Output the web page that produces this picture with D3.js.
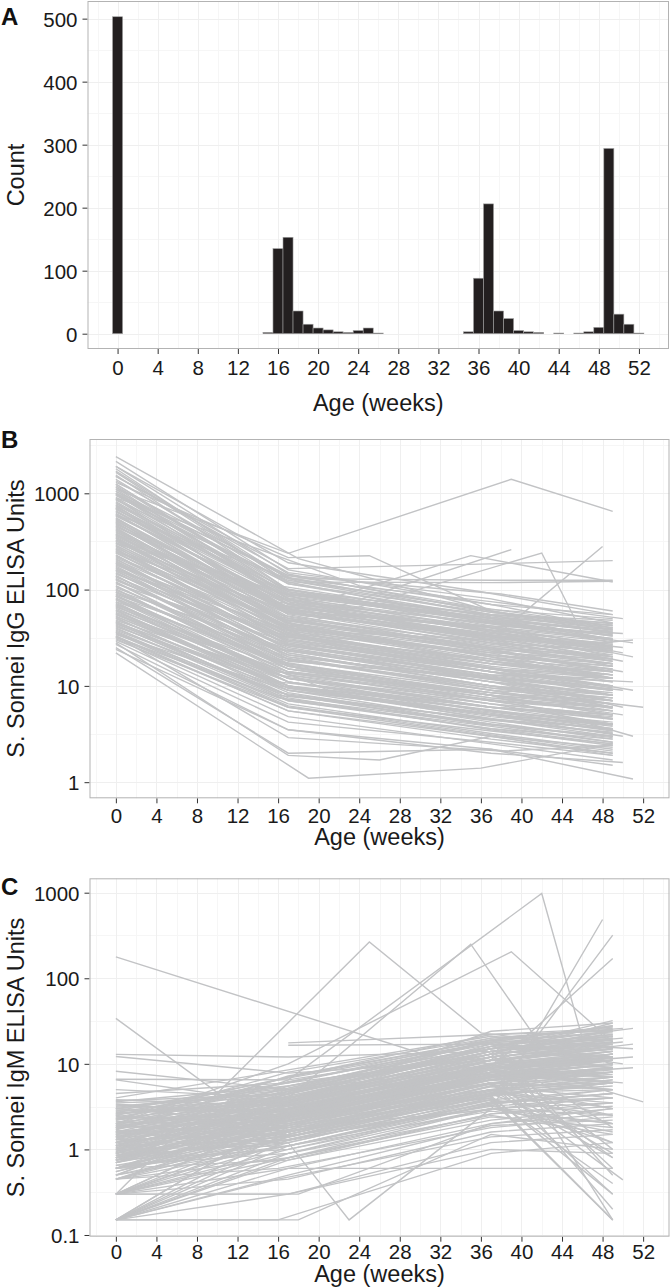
<!DOCTYPE html>
<meta charset="utf-8">
<style>
  body { margin: 0; background: #fff; }
  svg { display: block; font-family: "Liberation Sans", Arial, Helvetica, sans-serif; }
</style>
<body>
<script src="https://d3js.org/d3.v7.min.js"></script>
<script>

// panel A: number of samples per week of age
var histWeeks  = [0, 15, 16, 17, 18, 19, 20, 21, 22, 23, 24, 25, 26,
                  35, 36, 37, 38, 39, 40, 41, 42, 44, 46, 47, 48, 49, 50, 51, 52];
var histCounts = [503, 2, 135, 153, 36, 15, 9, 6, 3, 2, 5, 9, 1,
                  3, 88, 206, 36, 24, 5, 3, 2, 1, 1, 3, 10, 294, 31, 15, 1];

var ageTicks = d3.range(0, 53, 4);
var countTicks = [0, 100, 200, 300, 400, 500];
var iggTicks = [1, 10, 100, 1000];
var igmTicks = [0.1, 1, 10, 100, 1000];

// panel B: IgG per child, flat pairs of [week, units]
var iggSubjects = [
  [0,2400,18,210,37,60,49,35], [0,2150,17,160,37,70,49,40], [0,1900,17,190,36,95,49,55],
  [0,1800,16,140,37,55,49,30], [0,1650,17,120,38,45,49,28], [0,1500,17,150,37,80,49,45],
  [0,1550,17,100,37,40,50,22], [0,1350,17,130,37,60,49,38], [0,1250,16,110,37,50,49,30],
  [0,1200,17,95,37,42,49,25], [0,1150,17,140,36,65,49,42], [0,1100,17,85,37,38,49,20],
  [0,1050,18,120,37,55,49,48], [0,1000,16,105,37,45,49,35], [0,980,17,75,37,30,49,18],
  [0,950,17,115,37,58,49,44], [0,900,17,90,37,48,49,33], [0,880,16,70,36,35,49,22],
  [0,850,17,125,37,62,49,50], [0,820,17,80,37,40,49,26], [0,780,17,100,38,52,49,39],
  [0,750,16,65,37,33,49,21], [0,720,17,88,37,46,49,31], [0,700,17,60,37,28,49,16],
  [0,680,17,95,37,50,49,36], [0,650,18,72,37,38,49,27], [0,620,17,55,36,25,49,14],
  [0,1100,17,238,39,1400,49,650], [0,1300,17,215,25,225,37,60,49,40],
  [0,580,17,78,37,36,49,24], [0,560,17,50,37,22,49,12], [0,540,16,68,37,40,49,30],
  [0,520,17,58,37,26,49,19], [0,500,17,45,37,20,49,11], [0,480,17,70,36,34,49,28],
  [0,470,18,40,37,18,49,13], [0,450,17,62,37,30,49,22], [0,430,17,48,38,24,49,17],
  [0,420,16,55,37,27,49,20], [0,400,17,38,37,15,49,9], [0,390,17,66,37,35,50,25],
  [0,370,17,44,37,21,49,15], [0,360,16,52,37,28,49,23], [0,340,17,35,36,16,49,10],
  [0,330,17,47,37,25,49,18], [0,320,19,30,37,14,49,8], [0,310,17,56,37,32,49,26],
  [0,300,17,42,37,20,49,14], [0,290,17,36,37,17,49,12], [0,280,16,33,37,19,49,15],
  [0,270,17,45,37,24,49,21], [0,260,17,28,37,12,49,7], [0,250,18,38,38,20,49,16],
  [0,240,17,31,37,15,49,11], [0,230,17,26,36,13,49,9], [0,220,17,40,37,22,49,19],
  [0,210,16,24,37,11,49,6], [0,205,17,34,37,18,49,13], [0,195,17,29,37,14,49,10],
  [0,185,17,22,37,10,49,6.5], [0,180,17,37,37,21,49,17], [0,170,16,27,37,13,50,9],
  [0,165,17,20,37,9,49,5.5], [0,160,17,32,37,16,49,12], [0,155,17,25,36,12,49,8],
  [0,150,17,21,37,10,49,7], [0,145,17,30,37,17,49,14], [0,140,16,18,37,8,49,5],
  [0,135,17,26,37,14,49,11], [0,130,17,19,37,9.5,49,7.5], [0,125,17,23,38,12,49,9],
  [0,120,17,16,37,7,49,4.5], [0,115,17,28,37,15,49,13], [0,110,16,17,37,8.5,49,6],
  [0,105,17,21,37,11,49,8.5], [0,100,17,14,37,6.5,49,4], [0,98,17,24,37,13,49,12],
  [0,95,18,15,37,7.5,49,5.5], [0,90,17,19,37,10,49,8], [0,88,17,12,36,5.5,49,3.8],
  [0,85,17,20,37,12,49,10], [0,82,16,13,37,6,49,4.5], [0,80,17,16,37,8,49,6],
  [0,78,17,11,37,5,49,3.5], [0,75,17,17,37,9,49,7.5], [0,72,17,12,37,6.5,49,5],
  [0,70,16,14,37,7,49,5.5], [0,68,17,10,37,4.5,49,3], [0,66,17,15,37,8,49,6.5],
  [0,64,17,11,37,5.5,49,4], [0,62,17,13,38,7,49,5.5], [0,60,17,9,37,4.2,49,2.8],
  [0,58,17,12,37,6,49,4.8], [0,56,16,10,37,5.2,49,3.6], [0,55,17,14,37,8.5,49,7],
  [0,53,17,9.5,37,4.8,49,3.5], [0,52,17,11,37,6,49,5], [0,50,17,8.5,37,4,49,2.6],
  [0,48,17,12,37,7,49,6], [0,47,16,8,37,4.5,49,3.2], [0,46,17,10,37,5.5,49,4.2],
  [0,45,17,7.5,37,3.5,49,2.4], [0,44,17,9,37,5,49,4], [0,42,17,8,36,4,49,3],
  [0,41,17,10,37,6,49,5], [0,40,17,7,37,3.8,49,2.6], [0,38,17,8,37,4.5,49,3.6],
  [0,37,17,6.5,37,3.2,49,2.2], [0,36,16,7.5,37,4,49,3], [0,35,17,6,37,3,49,1.9],
  [0,34,17,9,37,5,49,4], [0,33,17,5.5,37,2.8,49,2], [0,32,17,7,37,3.6,49,2.8],
  [0,31,17,4.8,37,2.5,49,1.7], [0,30,17,6,37,3.4,49,2.5], [0,27,17,3.5,37,2.2,49,1.5],
  [0,25,17,2,37,2.2,51,1.08], [0,22,19,1.1,36,1.4,49,2.5], [0,28,17,1.9,26,1.7,37,3,49,2],
  [0,24,17,3.5,37,2,50,1.6], [0,29,17,4.2,37,2.6,49,1.9], [0,33,17,2.9,38,2.1,49,2.4],
  [0,450,20,55,37,28,49,20], [0,160,22,25,40,14,51,9], [0,900,24,110,37,70,49,55],
  [0,320,25,48,39,30,50,18], [0,70,21,9,41,5,49,4], [0,140,16,20,42,8,52,6],
  [0,600,17,75,37,45,51,28], [0,700,17,60,35,225,49,120], [0,500,17,45,39,260],
  [0,350,17,40,42,240,46,35], [0,260,17,38,37,30,48,280], [0,1500,17,165,37,185,49,200],
  [0,1700,17,130,37,125,49,125], [0,1000,17,120,37,118,49,122], [0,240,17,35,37,22,51,30],
  [0,130,17,18,37,12,50,6], [0,85,17,14,37,8,51,3], [0,380,17,60,37,42,50,35],
  [0,1900,17,145,37,58,49,42], [0,1400,17,115,37,52,49,36], [0,1250,17,100,37,47,49,33],
  [0,1150,16,92,37,50,49,38], [0,1050,17,80,37,36,49,24], [0,960,17,98,37,55,49,40],
  [0,870,17,82,37,44,49,30], [0,800,16,74,37,37,49,25], [0,760,17,92,37,51,49,43],
  [0,730,17,70,37,34,49,23], [0,690,17,85,37,48,49,37], [0,660,17,64,37,31,49,20],
  [0,640,16,80,37,44,49,34], [0,610,17,59,37,29,49,19], [0,590,17,72,37,41,49,31],
  [0,550,17,63,37,33,49,24], [0,530,16,49,37,23,49,14], [0,510,17,66,37,38,49,29],
  [0,490,17,52,37,25,49,17], [0,460,17,58,37,31,49,25], [0,440,17,43,37,20,49,12],
  [0,410,16,50,37,26,49,19], [0,380,17,41,37,19,49,13], [0,365,17,57,37,33,49,27],
  [0,345,17,39,37,18,49,12], [0,325,16,44,37,23,49,17], [0,305,17,33,37,15,49,9.5],
  [0,285,17,40,37,21,49,16], [0,265,17,30,37,14,49,9], [0,245,16,35,37,18,49,14],
  [0,225,17,27,37,12,49,8], [0,215,17,33,37,17,49,13], [0,200,17,24,37,11,49,7],
  [0,190,16,28,37,14,49,10], [0,175,17,22,37,10,49,6], [0,168,17,29,37,15,49,12],
  [0,158,17,19,37,9,49,5.8], [0,148,16,24,37,12,49,9], [0,138,17,17,37,8,49,5],
  [0,128,17,21,37,11,49,8], [0,118,17,15,37,7,49,4.6], [0,108,16,19,37,10,49,7.5],
  [0,102,17,13,37,6,49,4], [0,93,17,16,37,8.5,49,6.5], [0,86,17,11,37,5.5,49,3.6],
  [0,79,16,14,37,7.5,49,6], [0,74,17,10,37,5,49,3.4], [0,67,17,12,37,6.5,49,5],
  [0,61,17,9.5,37,4.6,49,3.2], [0,57,16,11,37,6,49,4.6], [0,51,17,8,37,4,49,2.9],
  [0,46,17,9.5,37,5,49,3.9], [0,43,17,7.2,37,3.6,49,2.5], [0,39,16,8.5,37,4.4,49,3.3],
  [0,36,17,6.2,37,3.1,49,2.1], [0,32,17,5.5,37,3,49,2.3], [0,1000,17,140,38,90,49,60],
  [0,600,17,130,37,75,50,50], [0,300,17,90,37,55,49,45], [0,250,17,60,37,40,51,20],
  [0,420,17,50,37,24,50,14], [0,190,17,27,37,13,51,11], [0,95,17,15,37,8,50,5],
  [0,55,17,10,37,5,50,3]
];

// panel C: IgM per child, flat pairs of [week, units]
var igmSubjects = [
  [0,178,37,7.3,49,8], [0,34,16,1.4,37,3,49,4], [0,12.9,17,12,37,14,49,18],
  [0,12.2,17,7.8,37,11,49,9], [0,8.2,17,5,37,9,49,12], [0,6.6,17,6.5,37,15,49,20],
  [0,6.5,16,3.5,37,8,49,6], [0,5,17,4,37,10,49,14], [0,4.5,17,6,37,12,49,25],
  [0,3.8,17,3.2,37,7,49,9], [0,3.6,17,5.5,37,16,49,22], [0,3.4,17,2.4,37,5,49,3],
  [0,3.2,16,4.5,37,13,49,17], [0,3.0,17,3.8,37,9,49,11], [0,3.0,17,2,37,4.5,49,1.2],
  [0,2.8,17,6.8,37,18,49,28], [0,2.7,17,3,37,8,49,7], [0,2.6,18,4.2,37,11,49,15],
  [0,2.5,17,1.6,37,3.8,49,5], [0,2.4,17,5,37,14,49,19], [0,2.3,17,2.6,37,6.5,49,8],
  [0,2.2,17,3.6,36,10,49,13], [0,2.1,17,1.9,37,4,49,0.4], [0,2.0,16,4,37,12,49,16],
  [0,2.0,17,2.8,37,7.5,49,10], [0,1.9,17,1.4,37,5.5,49,6], [0,1.8,17,3.3,37,9.5,49,12],
  [0,1.8,17,2.2,37,5,49,2.5], [0,1.7,17,4.8,37,15,49,21], [0,1.6,17,2.5,37,8.5,49,11],
  [0,1.6,16,1.2,37,3.5,49,4.5], [0,1.5,17,3,37,10,49,14], [0,1.5,17,2,37,6,49,7],
  [0,1.4,17,3.9,37,13,49,18], [0,1.4,18,1.7,37,4.5,49,3.5], [0,1.3,17,2.7,37,9,49,10],
  [0,1.3,17,1.5,37,5,49,0.8], [0,1.2,17,3.4,37,11,49,15], [0,1.2,16,2.1,37,6.5,49,8.5],
  [0,1.1,17,1.3,37,3.2,49,4], [0,1.1,17,2.9,37,8,49,13], [0,1.05,17,1.9,37,7,49,9],
  [0,1.0,17,4.2,37,14,49,24], [0,1.0,17,1.1,37,2.8,49,2], [0,0.95,17,2.4,37,7.5,49,6],
  [0,0.9,17,1.6,37,5.5,49,7], [0,0.9,16,3.1,37,10,49,12], [0,0.85,17,1.2,37,4,49,0.15],
  [0,0.8,17,2.2,37,8,49,9.5], [0,0.8,17,1.8,37,6,49,5], [0,0.75,17,2.6,37,9,49,11],
  [0,0.75,17,1,37,3,49,3.5], [0,0.75,18,1.5,37,4.8,49,6], [0,0.7,17,2.3,37,7,49,8],
  [0,0.65,17,0.9,37,2.5,49,1.5], [0,0.6,17,1.9,37,6.5,49,9], [0,0.6,17,1.3,37,4.2,49,0.3],
  [0,0.6,16,2.8,37,9.5,49,13], [0,0.6,17,0.75,37,2.2,49,3], [0,0.55,17,1.6,37,5,49,6.5],
  [0,0.5,17,1.1,37,3.6,49,4], [0,0.45,17,2,37,7,49,10], [0,0.45,17,0.8,37,2.4,49,1.8],
  [0,0.45,17,1.4,37,4.5,49,5.5], [0,0.45,16,0.6,37,1.8,49,2.4],
  [0,0.3,17,0.3,37,1.2,49,1.5], [0,0.3,17,1.5,37,5,49,7], [0,0.3,17,0.9,37,3,49,2.5],
  [0,0.3,16,2.2,37,7.5,49,11], [0,0.3,17,0.6,37,0.6,49,0.6], [0,0.3,17,1.2,37,4,49,0.15],
  [0,0.3,17,0.45,37,1.6,49,2], [0,0.3,25,266,36,23,49,15], [0,0.3,17,1.8,37,6,49,5],
  [0,0.3,18,0.3,37,2,49,3],
  [0,0.15,18,0.15,37,1.5,49,1], [0,0.15,17,0.75,37,2.6,49,3.2], [0,0.15,17,1.6,37,5.5,49,8],
  [0,0.15,16,0.45,37,1.4,49,1.7], [0,0.15,17,1.1,37,3.8,49,0.15], [0,0.15,17,0.3,37,1,49,0.9],
  [0,0.15,17,2.4,37,8,49,12], [0,0.15,16,0.15,37,0.9,49,1.2], [0,0.15,17,0.9,37,3.4,49,4.5],
  [0,0.15,17,0.6,37,2,49,2.6],
  [0,1.5,17,4,35,250,42,16,49,10], [0,2,17,10,39,204,49,18], [0,1.2,17,6.5,42,980,46,20],
  [0,1,17,1.8,37,2.9,48,486], [0,0.75,17,2.5,37,4,49,319], [0,1.5,17,3,37,9,49,170],
  [0,0.6,17,1.2,23,0.15,37,3,49,2], [17,17.6,37,22,49,26], [17,16.5,37,17,49,14],
  [0,2.2,17,8,37,20,50,26], [0,1.3,17,5.5,37,16,51,26], [0,0.9,17,3.5,37,12,52,3.6],
  [0,0.6,17,2,37,6,50,0.44], [0,2.5,17,7,37,19,51,15], [0,1.1,17,4.5,37,15,50,20],
  [0,0.8,20,3,40,12,51,17], [0,1.6,22,6,38,16,50,10], [0,2.6,17,3.5,37,24,49,30],
  [0,1.8,17,5.2,38,20,49,27], [0,0.9,17,2.6,39,11,49,0.15], [0,3.0,17,6,37,18,49,0.5],
  [0,1.2,17,4,37,13,49,1], [0,0.7,24,4,37,10,49,20], [0,4.0,17,8.5,37,21,49,16],
  [0,1.4,17,3,37,11,48,22], [0,2.3,16,5.8,36,17,49,24], [0,0.5,17,2.9,37,11,49,17],
  [0,1.7,17,7.2,37,19,49,23], [0,0.95,17,4.8,37,16,49,28], [0,3.3,17,2.7,37,6,49,0.3],
  [0,0.75,17,3.8,37,13,49,19], [0,1.9,17,6.2,37,17,49,12], [0,2.7,17,5.5,37,13,49,30],
  [0,1.0,17,3.2,37,9,49,0.8], [0,0.6,17,2.4,37,8.5,49,13],
  [0,3.5,17,4,37,11,49,14], [0,3.1,17,5.2,37,15,49,20], [0,2.9,16,2.8,37,7,49,5],
  [0,2.6,17,3.7,37,12,49,16], [0,2.4,17,2.1,37,6,49,9], [0,2.2,17,4.6,37,14,49,12],
  [0,2.1,17,3,37,9.5,49,7], [0,1.95,16,2.4,37,7,49,11], [0,1.85,17,4,37,13,49,18],
  [0,1.75,17,2.9,37,8.5,49,6], [0,1.65,17,1.8,37,5,49,8], [0,1.55,17,3.5,37,11,49,16],
  [0,1.45,16,2.3,37,7,49,9], [0,1.35,17,4.4,37,14,49,21], [0,1.25,17,1.6,37,4.6,49,5],
  [0,1.2,17,3,37,10,49,13], [0,1.15,17,2.5,37,7.8,49,11], [0,1.1,16,1.8,37,5.8,49,3],
  [0,1.05,17,3.6,37,12,49,17], [0,1.0,17,2.2,37,6.6,49,9], [0,0.95,17,1.4,37,4.2,49,6],
  [0,0.9,17,2.7,37,9,49,14], [0,0.85,16,2,37,6.4,49,7.5], [0,0.8,17,3.3,37,11,49,15],
  [0,0.8,17,1.3,37,3.8,49,2.5], [0,0.75,17,2.1,37,7.2,49,10], [0,0.7,17,1.7,37,5.4,49,4],
  [0,0.7,16,2.9,37,10,49,16], [0,0.65,17,1.5,37,4.8,49,7], [0,0.6,17,2.2,37,7.4,49,12],
  [0,0.6,17,1.1,37,3.3,49,1.2], [0,0.55,17,1.9,37,6,49,8], [0,0.5,16,1.3,37,4.3,49,6],
  [0,0.5,17,2.5,37,8.8,49,13], [0,0.45,17,1.1,37,3.5,49,5], [0,0.45,17,1.7,37,5.8,49,9],
  [0,0.3,17,1,37,3.4,49,4.5], [0,0.3,17,2.6,37,8.5,49,12], [0,0.3,16,0.75,37,2.6,49,3.5],
  [0,0.3,17,1.4,37,4.6,49,6.5], [0,0.15,17,1.3,37,4.4,49,6], [0,0.15,17,0.5,37,1.9,49,2.2],
  [0,0.15,16,2,37,6.8,49,10], [0,0.15,17,0.8,37,3,49,1.6], [0,1.8,17,3.6,37,16,49,22],
  [0,2.5,17,6,37,20,49,25], [0,1.3,17,5,37,18,49,19], [0,3.7,17,4.4,37,19,49,27],
  [0,2.0,17,7,37,22,49,24], [0,0.9,17,4,37,17,49,21], [0,1.6,17,2.6,37,12,49,0.6],
  [0,2.8,17,3.4,37,9,49,0.2], [0,1.1,17,3.2,37,14,49,1.8], [0,0.7,17,1.6,37,6,49,0.9],
  [0,1.4,17,2.3,37,8,50,6], [0,0.85,17,2.8,37,9,51,12], [0,2.3,17,4,37,13,50,18],
  [0,1.2,17,1.9,37,7,51,9], [0,3.0,17,5,37,15,49,32], [0,0.6,17,1.5,37,5,49,2]
];

var W = 672, H = 1288;
var svg = d3.select("body").append("svg").attr("width", W).attr("height", H);

var textCol = "#1a1a1a";
var lineCol = "#c2c3c5";

function toPairs(flat) {
  var out = [];
  for (var i = 0; i < flat.length; i += 2) out.push({w: flat[i], v: flat[i + 1]});
  return out;
}

// draws the grid, ticks and titles of one panel
function panel(box, x, y, opts) {
  var g = svg.append("g");

  // minor grid
  g.selectAll(".mx").data(opts.xMinor).enter().append("line")
    .attr("x1", function(d) { return Math.round(x(d)) + 0.5; })
    .attr("x2", function(d) { return Math.round(x(d)) + 0.5; })
    .attr("y1", box.top).attr("y2", box.bottom)
    .attr("stroke", "#f6f6f6");
  g.selectAll(".my").data(opts.yMinor).enter().append("line")
    .attr("y1", function(d) { return Math.round(y(d)) + 0.5; })
    .attr("y2", function(d) { return Math.round(y(d)) + 0.5; })
    .attr("x1", box.left).attr("x2", box.right)
    .attr("stroke", "#f6f6f6");
  // major grid
  g.selectAll(".gx").data(ageTicks).enter().append("line")
    .attr("x1", function(d) { return Math.round(x(d)) + 0.5; })
    .attr("x2", function(d) { return Math.round(x(d)) + 0.5; })
    .attr("y1", box.top).attr("y2", box.bottom)
    .attr("stroke", "#efefef");
  g.selectAll(".gy").data(opts.yTicks).enter().append("line")
    .attr("y1", function(d) { return Math.round(y(d)) + 0.5; })
    .attr("y2", function(d) { return Math.round(y(d)) + 0.5; })
    .attr("x1", box.left).attr("x2", box.right)
    .attr("stroke", "#efefef");

  var xAxis = svg.append("g")
    .attr("transform", "translate(0," + box.bottom + ")")
    .call(d3.axisBottom(x).tickValues(ageTicks).tickSize(5).tickPadding(4).tickFormat(d3.format("d")));
  var yAxis = svg.append("g")
    .attr("transform", "translate(" + box.left + ",0)")
    .call(d3.axisLeft(y).tickValues(opts.yTicks).tickSize(5).tickPadding(5).tickFormat(opts.yFormat));
  [xAxis, yAxis].forEach(function(a) {
    a.select(".domain").remove();
    a.selectAll(".tick line").attr("stroke", "#333");
    a.selectAll(".tick text").attr("fill", textCol).attr("font-size", 20.5)
      .attr("font-family", "Liberation Sans, Arial, sans-serif");
  });
  xAxis.selectAll(".tick text").attr("dy", null).attr("y", opts.xLabelY - box.bottom);
  yAxis.selectAll(".tick text").attr("dy", "0.36em");

  svg.append("text")
    .attr("x", (box.left + box.right) / 2).attr("y", opts.xTitleY)
    .attr("text-anchor", "middle").attr("font-size", 23.5).attr("fill", textCol)
    .text("Age (weeks)");
  svg.append("text")
    .attr("transform", "translate(24," + (box.top + box.bottom) / 2 + ") rotate(-90)")
    .attr("text-anchor", "middle").attr("font-size", 23.5).attr("fill", textCol)
    .text(opts.yTitle);
  svg.append("text")
    .attr("x", 1).attr("y", opts.letterY)
    .attr("font-size", 24).attr("font-weight", "bold").attr("fill", "#111")
    .text(opts.letter);

  return g;
}

function frame(box) {
  svg.append("rect")
    .attr("x", box.left + 0.5).attr("y", box.top + 0.5)
    .attr("width", box.right - box.left - 1).attr("height", box.bottom - box.top - 1)
    .attr("fill", "none").attr("stroke", "#b3b3b3").attr("stroke-width", 1);
}

function logMinor(lo, hi) {
  var out = [];
  for (var k = lo; k <= hi; k++) out.push(Math.pow(10, k + 0.5));
  return out;
}

// ---------- A ----------
var boxA = {left: 87.5, right: 669, top: 1, bottom: 349};
var xA = d3.scaleLinear().domain([-3.0, 55.0]).range([boxA.left, boxA.right]);
var yA = d3.scaleLinear().domain([-24.3, 528]).range([boxA.bottom, boxA.top]);
var gA = panel(boxA, xA, yA, {
  xMinor: d3.range(-2, 55, 4), yMinor: d3.range(50, 500, 100), yTicks: countTicks,
  yFormat: d3.format("d"), xLabelY: 375, xTitleY: 411, yTitle: "Count",
  letter: "A", letterY: 25
});
gA.selectAll(".bar").data(histWeeks).enter().append("rect")
  .attr("x", function(d) { return xA(d - 0.5); })
  .attr("width", function(d) { return xA(d + 0.5) - xA(d - 0.5); })
  .attr("y", function(d, i) { return yA(histCounts[i]); })
  .attr("height", function(d, i) { return yA(0) - yA(histCounts[i]); })
  .attr("fill", "#231f20").attr("stroke", "#a0a0a0").attr("stroke-width", 0.6);
frame(boxA);

// ---------- B ----------
var boxB = {left: 89.5, right: 669.5, top: 439, bottom: 798.3};
var xB = d3.scaleLinear().domain([-2.6, 54.6]).range([boxB.left, boxB.right]);
var yB = d3.scaleLog().domain([0.68, 3664]).range([boxB.bottom, boxB.top]);
var gB = panel(boxB, xB, yB, {
  xMinor: d3.range(-2, 55, 4), yMinor: logMinor(0, 3), yTicks: iggTicks,
  yFormat: d3.format("d"), xLabelY: 823.5, xTitleY: 845, yTitle: "S. Sonnei IgG ELISA Units",
  letter: "B", letterY: 448
});
var lineB = d3.line().x(function(d) { return xB(d.w); }).y(function(d) { return yB(d.v); });
gB.selectAll(".subj").data(iggSubjects.map(toPairs)).enter().append("path")
  .attr("d", lineB).attr("fill", "none").attr("stroke", lineCol).attr("stroke-width", 1.4);
frame(boxB);

// ---------- C ----------
var boxC = {left: 89.5, right: 669.5, top: 878.3, bottom: 1236.7};
var xC = d3.scaleLinear().domain([-2.6, 54.6]).range([boxC.left, boxC.right]);
var yC = d3.scaleLog().domain([0.0955, 1473]).range([boxC.bottom, boxC.top]);
var gC = panel(boxC, xC, yC, {
  xMinor: d3.range(-2, 55, 4), yMinor: logMinor(-1, 2), yTicks: igmTicks,
  yFormat: function(d) { return d < 1 ? "0.1" : d3.format("d")(d); },
  xLabelY: 1259, xTitleY: 1282, yTitle: "S. Sonnei IgM ELISA Units",
  letter: "C", letterY: 895
});
var lineC = d3.line().x(function(d) { return xC(d.w); }).y(function(d) { return yC(d.v); });
gC.selectAll(".subj").data(igmSubjects.map(toPairs)).enter().append("path")
  .attr("d", lineC).attr("fill", "none").attr("stroke", lineCol).attr("stroke-width", 1.4);
frame(boxC);

</script>
